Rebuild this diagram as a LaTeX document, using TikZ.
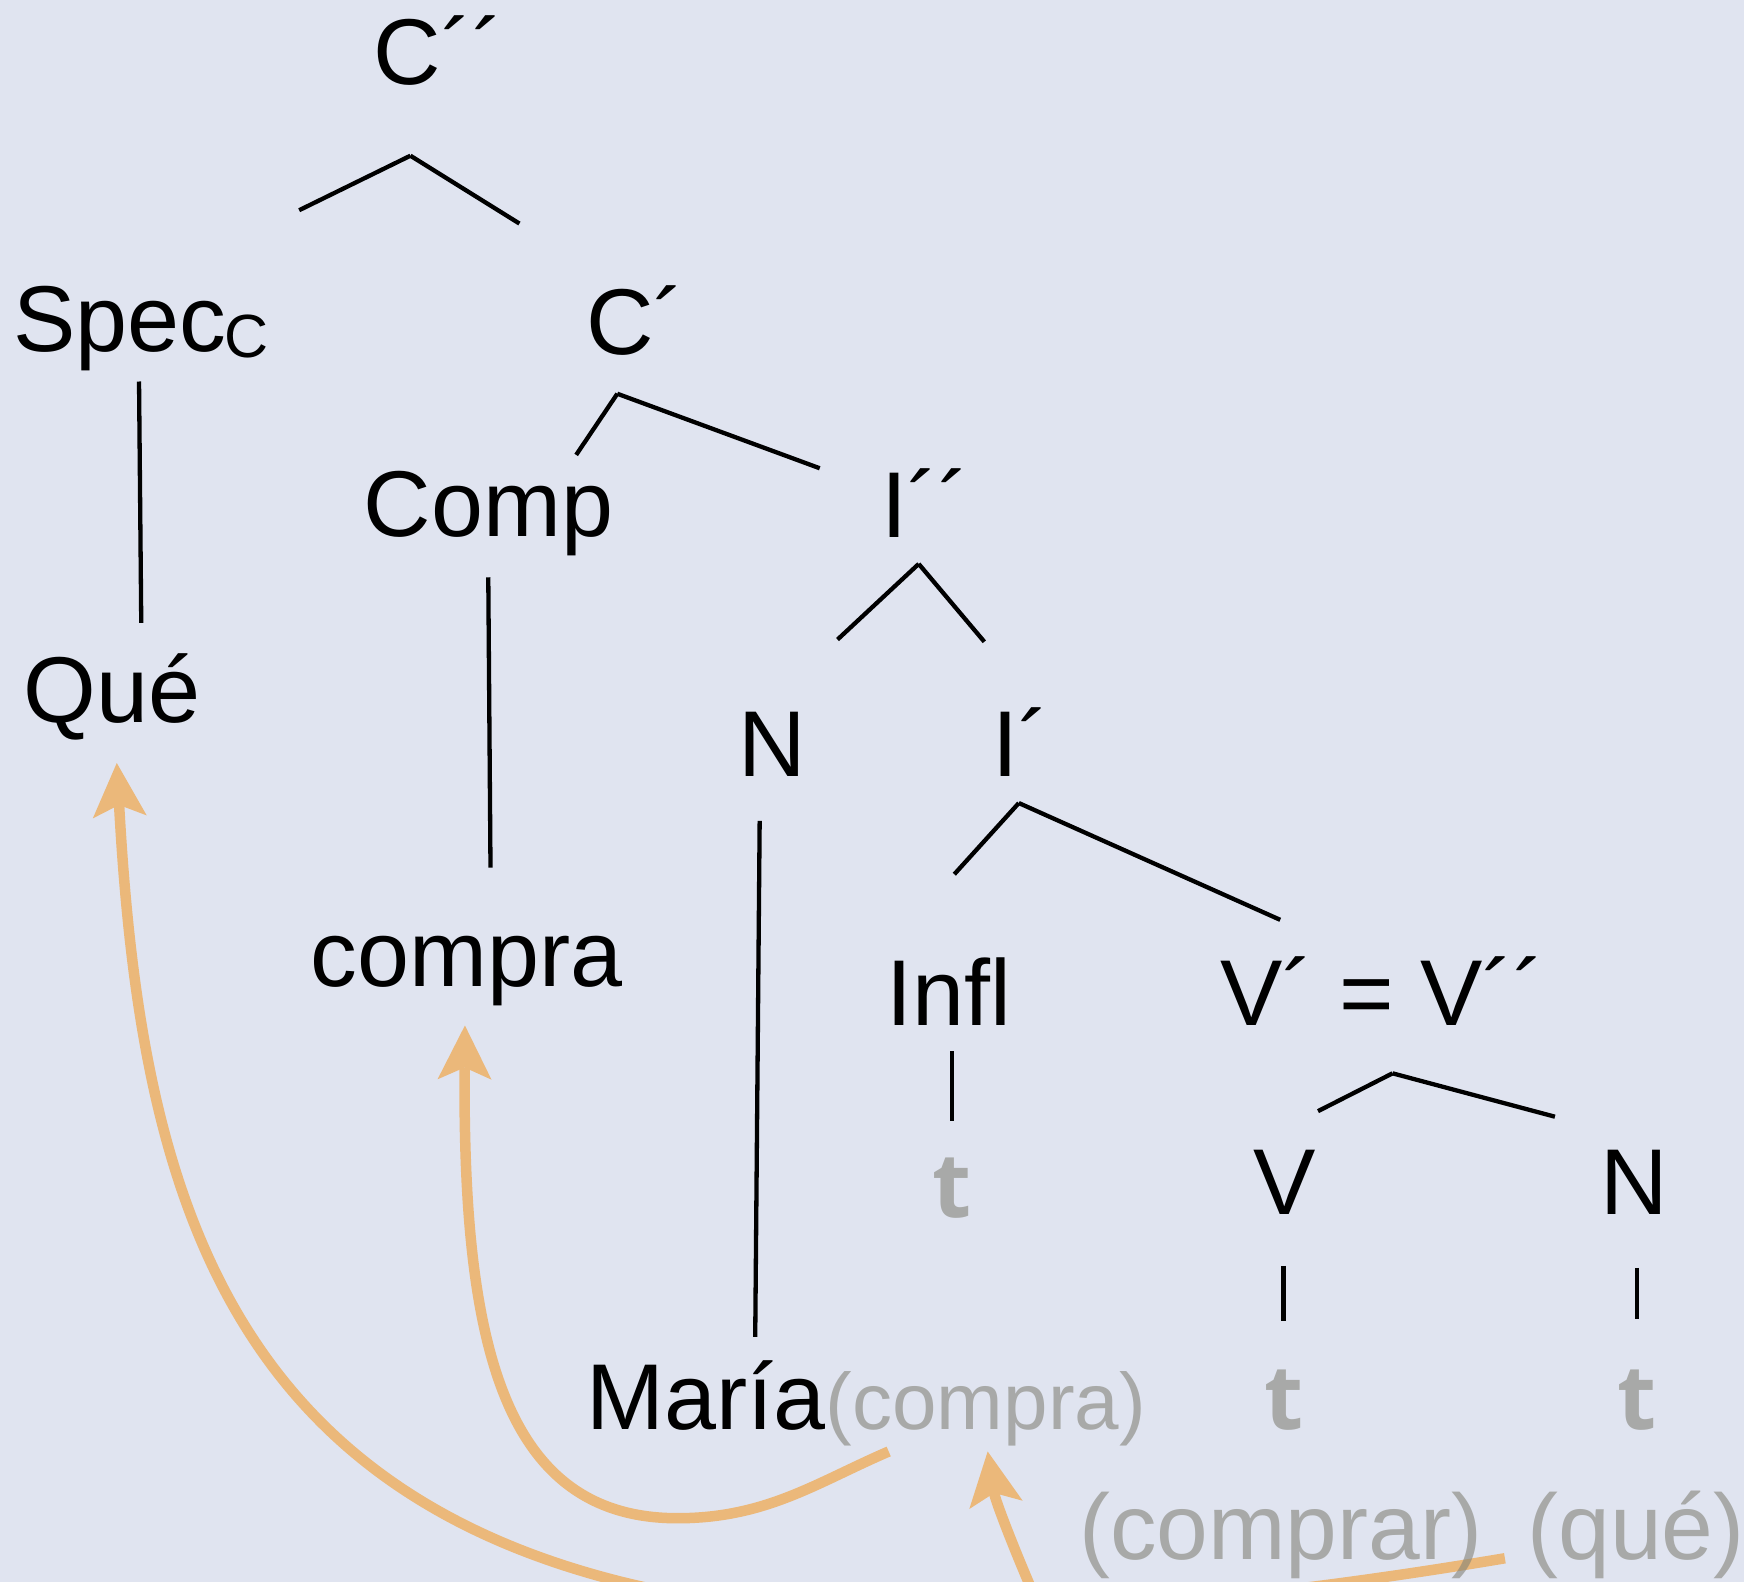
\documentclass[tikz,border=0pt]{standalone}
\usepackage{fontspec}
\setmainfont{Liberation Sans}
\newfontfamily\tfont{Open Sans}
\usetikzlibrary{arrows.meta}
\definecolor{bgc}{RGB}{224,228,240}
\definecolor{orng}{RGB}{235,184,122}
\definecolor{trc}{RGB}{131,131,120}
\begin{document}
\begin{tikzpicture}[x=1.11224pt,y=-1.11224pt,
  lab/.style={font=\fontsize{93.5}{100}\selectfont, inner sep=0pt, anchor=base west, text=black},
  sublab/.style={font=\fontsize{61}{70}\selectfont, inner sep=0pt, anchor=base west, text=black},
  trace/.style={font=\tfont\bfseries\fontsize{90}{100}\selectfont, inner sep=0pt, anchor=base, text=trc, text opacity=0.6},
  grsmall/.style={font=\fontsize{80}{90}\selectfont, inner sep=0pt, anchor=base west, text=trc, text opacity=0.6},
  grbig/.style={font=\fontsize{93}{100}\selectfont, inner sep=0pt, anchor=base west, text=trc, text opacity=0.6},
  br/.style={draw=black, line width=4.3pt},
  mv/.style={draw=orng, line width=10.5pt, -{Stealth[length=54pt, width=54pt, inset=12pt, line width=0pt]}}
]
\useasboundingbox (0,0) rectangle (1568,1422);
\fill[bgc] (0,0) rectangle (1568,1422);
\clip (0,0) rectangle (1568,1422);

% branch coordinates
\coordinate (a1) at (369,140); \coordinate (a1l) at (269,189); \coordinate (a1r) at (467,201);
\coordinate (s1) at (125,343); \coordinate (s2) at (127,560);
\coordinate (a2) at (555,354); \coordinate (a2l) at (518,409); \coordinate (a2r) at (737,421);
\coordinate (c1) at (439,519); \coordinate (c2) at (441,780);
\coordinate (a3) at (826,507); \coordinate (a3l) at (753,575); \coordinate (a3r) at (885,577);
\coordinate (n1a) at (683,738); \coordinate (n1b) at (679,1202);
\coordinate (a4) at (916,722); \coordinate (a4l) at (858,786); \coordinate (a4r) at (1151,827);
\coordinate (i1) at (856,945); \coordinate (i2) at (856,1008);
\coordinate (a5) at (1252,965); \coordinate (a5l) at (1185,999); \coordinate (a5r) at (1398,1004);
\coordinate (v1) at (1154,1138); \coordinate (v2) at (1154,1188);
\coordinate (nn1) at (1472,1140); \coordinate (nn2) at (1472,1186);

% arrow coordinates
\coordinate (queTip) at (105,686);
\coordinate (queStart) at (1353,1401);
\coordinate (queLow) at (554,1421);
\coordinate (cpTip) at (418,922);
\coordinate (cpStart) at (799,1305);
\coordinate (cpLow) at (609,1365);
\coordinate (mcTip) at (888,1305);
\coordinate (mcStart) at (950,1480);

% tree lines
\draw[br] (a1) -- (a1l); \draw[br] (a1) -- (a1r);
\draw[br] (s1) -- (s2);
\draw[br] (a2) -- (a2l); \draw[br] (a2) -- (a2r);
\draw[br] (c1) -- (c2);
\draw[br] (a3) -- (a3l); \draw[br] (a3) -- (a3r);
\draw[br] (n1a) -- (n1b);
\draw[br] (a4) -- (a4l); \draw[br] (a4) -- (a4r);
\draw[br] (i1) -- (i2);
\draw[br] (a5) -- (a5l); \draw[br] (a5) -- (a5r);
\draw[br] (v1) -- (v2);
\draw[br] (nn1) -- (nn2);

% movement arrows
\draw[mv] (queStart) .. controls (1156,1434) and (796,1483) .. (queLow)
  .. controls (195.5,1329) and (125.4,1055) .. (queTip);
\draw[mv] (cpStart) .. controls (734,1333) and (689,1365) .. (cpLow)
  .. controls (449,1365) and (416,1200) .. (cpTip);
\draw[mv] (mcStart) .. controls (918,1410) and (895,1350) .. (mcTip);

% labels
\node[lab] (cpp) at (336,76) {C´´};
\node[lab] (spec) at (12,316) {Spec};
\node[sublab] (specsub) at (202,321) {C};
\node[lab] (cp) at (527,319) {C´};
\node[lab] (comp) at (327,482) {Comp};
\node[lab] (ipp) at (792,483) {I´´};
\node[lab] (que) at (21,650) {Qué};
\node[lab] (n1) at (664,698) {N};
\node[lab] (ip) at (892,698) {I´};
\node[lab] (compra) at (279,887) {compra};
\node[lab] (infl) at (797,922) {Infl};
\node[lab] (veq) at (1097,922) {V´ = V´´};
\node[trace] (t1) at (856,1095) {t};
\node[lab] (v) at (1127,1092) {V};
\node[lab] (n2) at (1439,1092) {N};
\node[lab] (maria) at (527,1285) {María};
\node[grsmall] (mcompra) at (maria.base east) {(compra)};
\node[trace] (t2) at (1154,1285) {t};
\node[trace] (t3) at (1472,1285) {t};
\node[grbig] (comprar) at (970,1402) {(comprar)};
\node[grbig] (quep) at (1373,1402) {(qué)};
\end{tikzpicture}
\end{document}
